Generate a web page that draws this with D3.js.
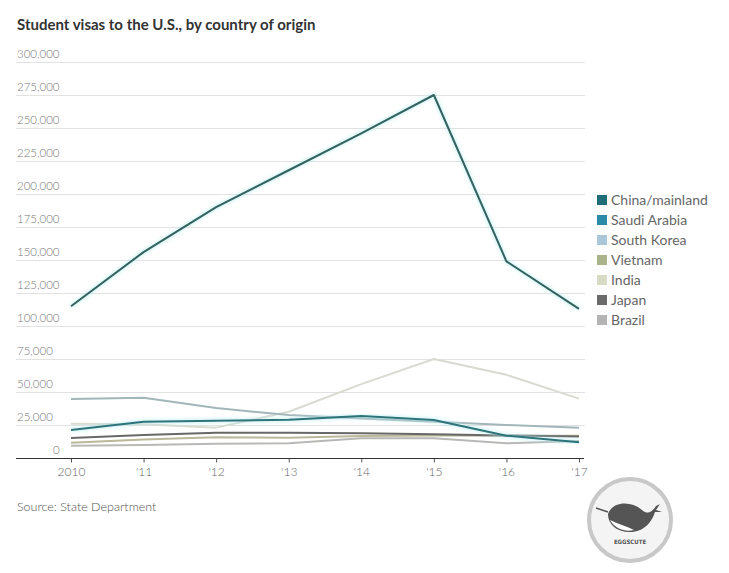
<!DOCTYPE html>
<html>
<head>
<meta charset="utf-8">
<script src="https://cdn.jsdelivr.net/npm/d3@7"></script>
<style>
  html, body { margin: 0; padding: 0; background: #ffffff; }
  svg { display: block; }
</style>
</head>
<body>
<svg id="chart" width="729" height="573"></svg>
<script>
// ---- Data ----
const years = [2010, 2011, 2012, 2013, 2014, 2015, 2016, 2017];
const yearLabels = ["2010", "'11", "'12", "'13", "'14", "'15", "'16", "'17"];
const yTicks = [0, 25000, 50000, 75000, 100000, 125000, 150000, 175000, 200000, 225000, 250000, 275000, 300000];

const seriesNames = ["China/mainland", "Saudi Arabia", "South Korea", "Vietnam", "India", "Japan", "Brazil"];
const china       = [115000, 156000, 190000, 218000, 246000, 275000, 149000, 113000];
const saudiArabia = [21200, 27500, 28300, 29000, 31800, 28800, 16900, 11900];
const southKorea  = [44700, 45700, 37900, 32500, 30000, 27500, 25000, 23000];
const vietnam     = [11600, 14100, 15700, 15400, 16700, 17000, 16800, 16900];
const india       = [26000, 25600, 23000, 35000, 56000, 75000, 63000, 45000];
const japan       = [15100, 17400, 19200, 19200, 18700, 17900, 17000, 16200];
const brazil      = [9300, 9800, 10800, 11100, 15000, 14900, 11100, 12900];

const seriesValues = [china, saudiArabia, southKorea, vietnam, india, japan, brazil];

// ---- Styles ----
const lineColors   = ["#34625f", "#2f747b", "#a3b6ba", "#b9b99a", "#d8dbd2", "#686868", "#b8b8b6"];
const legendColors = ["#1e6d78", "#2a8aa8", "#a9c6da", "#aab38c", "#d8dbc4", "#6a6a6a", "#b4b4b4"];
const drawOrder = [4, 2, 6, 3, 5, 1, 0];

const svg = d3.select("#chart");

const x = d3.scaleLinear().domain([2010, 2017]).range([71, 579]);
const y = d3.scaleLinear().domain([0, 300000]).range([458, 62]);

// Title
svg.append("text")
  .attr("x", 17).attr("y", 30)
  .attr("font-family", "Lato, 'Open Sans', sans-serif")
  .attr("font-weight", "bold")
  .attr("font-size", "15px")
  .attr("fill", "#333333")
  .text("Student visas to the U.S., by country of origin");

// Gridlines + labels
const grid = svg.append("g");
grid.selectAll("line")
  .data(yTicks.filter(d => d > 0))
  .join("line")
  .attr("x1", 16).attr("x2", 585)
  .attr("y1", d => Math.round(y(d)) + 0.5)
  .attr("y2", d => Math.round(y(d)) + 0.5)
  .attr("stroke", "#e2e2e2")
  .attr("stroke-width", 1);

grid.selectAll("text")
  .data(yTicks)
  .join("text")
  .attr("x", d => d === 0 ? 53 : 17)
  .attr("y", d => y(d) - 4)
  .attr("font-family", "Lato, sans-serif")
  .attr("font-weight", 300)
  .attr("font-size", "11.5px")
  .attr("fill", "#777777")
  .text(d => d3.format(",")(d));

// X axis
const xAxis = d3.axisBottom(x)
  .tickValues(years)
  .tickFormat((d, i) => yearLabels[i])
  .tickSize(4)
  .tickSizeOuter(0);

const gx = svg.append("g")
  .attr("transform", "translate(0,458.5)")
  .call(xAxis);
gx.select(".domain").remove();
gx.append("line")
  .attr("x1", 16).attr("x2", 584)
  .attr("y1", 0).attr("y2", 0)
  .attr("stroke", "#333333").attr("stroke-width", 1);
gx.selectAll(".tick line").attr("stroke", "#555555");
gx.selectAll(".tick text")
  .attr("dy", 0).attr("y", 17)
  .attr("font-family", "Lato, sans-serif")
  .attr("font-weight", 300)
  .attr("font-size", "12px")
  .attr("fill", "#666666");

// Lines
const line = d3.line()
  .x((d, i) => x(years[i]))
  .y(d => y(d));

const defs = svg.append("defs");
const glow = defs.append("filter").attr("id", "glow")
  .attr("x", "-5%").attr("y", "-5%").attr("width", "110%").attr("height", "110%");
glow.append("feGaussianBlur").attr("stdDeviation", 1.5);

const linesG = svg.append("g");
drawOrder.forEach(i => {
  if (i <= 1) {
    linesG.append("path")
      .attr("d", line(seriesValues[i]))
      .attr("fill", "none")
      .attr("stroke", "#b8eef0")
      .attr("stroke-width", 5)
      .attr("opacity", 0.55)
      .attr("filter", "url(#glow)");
  }
  linesG.append("path")
    .attr("d", line(seriesValues[i]))
    .attr("fill", "none")
    .attr("stroke", lineColors[i])
    .attr("stroke-width", 2)
    .attr("stroke-linejoin", "round");
});

// Legend
const legend = svg.append("g");
seriesNames.forEach((name, i) => {
  const cy = 200 + i * 20;
  legend.append("rect")
    .attr("x", 597).attr("y", cy - 5)
    .attr("width", 10).attr("height", 10)
    .attr("fill", legendColors[i]);
  legend.append("text")
    .attr("x", 611).attr("y", cy + 5)
    .attr("font-family", "Lato, sans-serif")
    .attr("font-size", "14px")
    .attr("fill", "#666666")
    .text(name);
});

// Source
svg.append("text")
  .attr("x", 17).attr("y", 511)
  .attr("font-family", "Lato, sans-serif")
  .attr("font-weight", 300)
  .attr("font-size", "12.5px")
  .attr("fill", "#555555")
  .text("Source: State Department");

// Watermark badge
const badge = svg.append("g").attr("transform", "translate(630,520)");
badge.append("circle").attr("r", 41)
  .attr("fill", "#f4f4f4").attr("stroke", "#c8c8c8").attr("stroke-width", 4);
badge.append("path")
  .attr("d", "M-22,-6 C-18,-18 0,-20 12,-10 C18,-5 22,-8 26,-14 L30,-16 L26,-10 L32,-8 L25,-8 C22,2 14,12 0,12 C-14,12 -22,4 -22,-6 Z")
  .attr("fill", "#555555");
badge.append("path")
  .attr("d", "M-20,0 C-14,10 -4,12 4,10 C-4,6 -12,4 -20,0 Z")
  .attr("fill", "#ffffff");
badge.append("line")
  .attr("x1", -22).attr("y1", -8).attr("x2", -34).attr("y2", -12)
  .attr("stroke", "#555555").attr("stroke-width", 1.5);
badge.append("text")
  .attr("x", 0).attr("y", 24)
  .attr("text-anchor", "middle")
  .attr("font-family", "'DejaVu Sans Condensed', sans-serif")
  .attr("font-weight", "bold")
  .attr("font-size", "6px")
  .attr("fill", "#555555")
  .text("EGGSCUTE");
</script>
</body>
</html>
